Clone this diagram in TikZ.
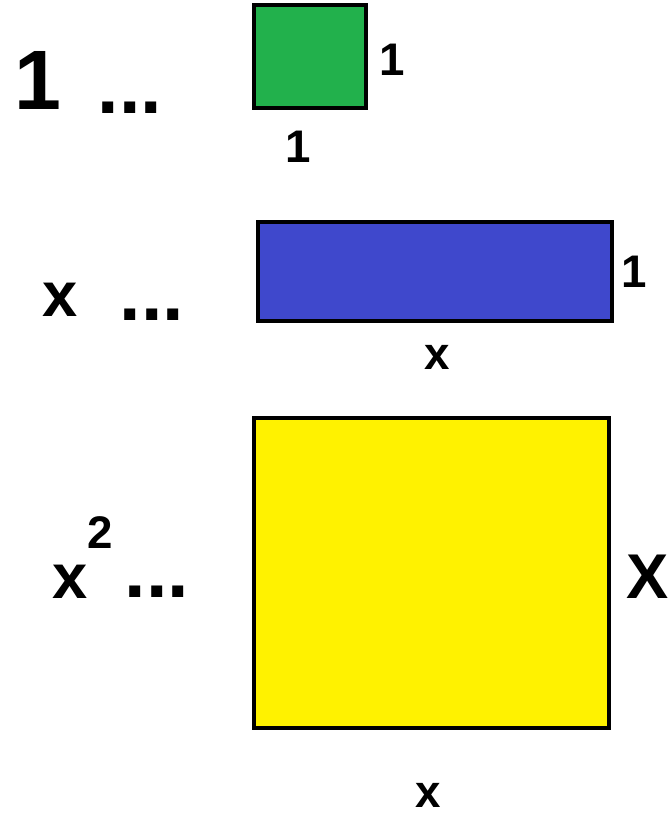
\documentclass[tikz,border=0pt]{standalone}
\usepackage{fontspec}
\setmainfont{Liberation Sans}
\definecolor{tilegreen}{RGB}{34,177,76}
\definecolor{tileblue}{RGB}{63,72,204}
\definecolor{tileyellow}{RGB}{255,242,0}
\begin{document}
\begin{tikzpicture}[x=0.02cm,y=-0.02cm,
    tile/.style={draw=black,line width=2.8pt,inner sep=0pt,shape=rectangle},
    lab/.style={inner sep=0pt,font=\bfseries\fontsize{26}{26}\selectfont},
    biglab/.style={inner sep=0pt,font=\bfseries\fontsize{36}{36}\selectfont},
    dots/.style={inner sep=0pt,font=\bfseries\fontsize{44}{44}\selectfont}]
      \useasboundingbox (0,0) rectangle (671,816) ;
      % tiles
      \node[tile,fill=tilegreen,minimum width=2.24cm,minimum height=2.06cm] %
      (one) at (310,56.5) {} ;
      \node[tile,fill=tileblue,minimum width=7.08cm,minimum height=1.98cm] %
      (ex) at (435,271.5) {} ;
      \node[tile,fill=tileyellow,minimum width=7.1cm,minimum height=6.2cm] %
      (exsq) at (431.5,573) {} ;
      % sides
      \node[lab] (oneR) at (392,60) {1} ;
      \node[lab] (oneB) at (298,147) {1} ;
      \node[lab] (exR) at (634,272) {1} ;
      \node[lab] (exB) at (437,357) {x} ;
      \node[biglab] (exsqR) at (648,577) {X} ;
      \node[lab] (exsqB) at (428,795) {x} ;
      % names
      \node[inner sep=0pt,font=\bfseries\fontsize{48}{48}\selectfont] %
      (nOne) at (38,80) {1} ;
      \node[dots] (dOne) at (130,108) {...} ;
      \node[biglab] (nEx) at (60,300) {x} ;
      \node[dots] (dEx) at (152,315) {...} ;
      \node[biglab] (nExsq) at (70,582) {x} ;
      \node[lab] (pExsq) at (100,533) {2} ;
      \node[dots] (dExsq) at (157,592) {...} ;
\end{tikzpicture}
\end{document}
